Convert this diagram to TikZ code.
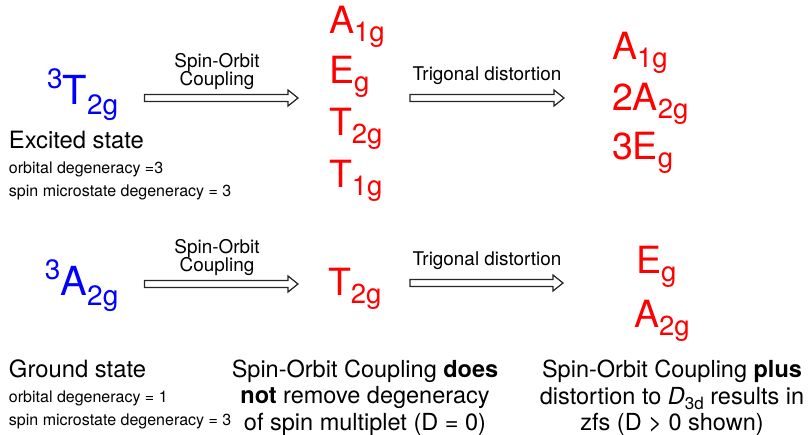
\documentclass[tikz,border=0pt]{standalone}
\usepackage{fontspec}
\setmainfont{TeX Gyre Heros}
\usetikzlibrary{calc}
\newcommand\redsub[1]{\raisebox{-8pt}{\fontsize{27.5}{27.5}\selectfont #1}}
\newcommand\bluesub[1]{\raisebox{-10pt}{\fontsize{28}{28}\selectfont #1}}
\newcommand\bluesup[1]{\raisebox{16pt}{\fontsize{28}{28}\selectfont #1}}
\newcommand\fatarrow[2]{\draw[fatarrowstyle] ($(#1)+(0,3.5)$) -- ($(#2)+(-10,3.5)$) -- ($(#2)+(-10,8)$) -- (#2) -- ($(#2)+(-10,-8)$) -- ($(#2)+(-10,-3.5)$) -- ($(#1)+(0,-3.5)$) -- cycle;}
\begin{document}
\begin{tikzpicture}[x=1pt,y=-1pt,
  every node/.style={inner sep=0pt,outer sep=0pt},
  blueterm/.style={anchor=base west,text=blue,font=\fontsize{40}{40}\selectfont},
  redterm/.style={anchor=base west,text=red,font=\fontsize{37.5}{37.5}\selectfont},
  arrowlabel/.style={anchor=base,font=\fontsize{18.9}{19}\selectfont},
  statetitle/.style={anchor=base west,font=\fontsize{23.8}{24}\selectfont},
  smalltext/.style={anchor=base west,font=\fontsize{16}{16}\selectfont},
  note/.style={anchor=base,font=\fontsize{23.5}{24}\selectfont},
  fatarrowstyle/.style={draw=black!85,line width=1.2pt,fill=white,line join=miter}]
\useasboundingbox (0,0) rectangle (809,434);

% top row
\node[blueterm] (T2g) at (47,104) {\bluesup{3}T\bluesub{2g}};
\node[statetitle] (exc) at (9,148) {Excited state};
\node[smalltext] (exc1) at (9,173) {orbital degeneracy =3};
\node[smalltext] (exc2) at (9,196) {spin microstate degeneracy = 3};

\node[arrowlabel] (so1a) at (217,67) {Spin-Orbit};
\node[arrowlabel] (so1b) at (217,85) {Coupling};
\coordinate (a1s) at (144.5,98);
\coordinate (a1e) at (298,98);
\fatarrow{a1s}{a1e}

\node[redterm] (r1) at (329,33) {A\redsub{1g}};
\node[redterm] (r2) at (329,83) {E\redsub{g}};
\node[redterm] (r3) at (329,135) {T\redsub{2g}};
\node[redterm] (r4) at (329,187) {T\redsub{1g}};

\node[arrowlabel] (tr1) at (487,80) {Trigonal distortion};
\coordinate (a2s) at (410,98);
\coordinate (a2e) at (564,98);
\fatarrow{a2s}{a2e}

\node[redterm] (s1) at (612,59) {A\redsub{1g}};
\node[redterm] (s2) at (612,110) {2A\redsub{2g}};
\node[redterm] (s3) at (612,159) {3E\redsub{g}};

% bottom row
\node[blueterm] (A2g) at (45,295) {\bluesup{3}A\bluesub{2g}};
\node[arrowlabel] (so2a) at (217,253) {Spin-Orbit};
\node[arrowlabel] (so2b) at (217,271) {Coupling};
\coordinate (b1s) at (144.5,284);
\coordinate (b1e) at (298,284);
\fatarrow{b1s}{b1e}

\node[redterm] (bt) at (328,295) {T\redsub{2g}};

\node[arrowlabel] (tr2) at (487,265) {Trigonal distortion};
\coordinate (b2s) at (410,283);
\coordinate (b2e) at (563,283);
\fatarrow{b2s}{b2e}

\node[redterm] (be) at (636,273) {E\redsub{g}};
\node[redterm] (ba) at (634,327) {A\redsub{2g}};

\node[statetitle] (gnd) at (9,377) {Ground state};
\node[smalltext] (gnd1) at (9,402) {orbital degeneracy = 1};
\node[smalltext] (gnd2) at (9,425) {spin microstate degeneracy = 3};

\node[note] (m1) at (365,377) {Spin-Orbit Coupling \textbf{does}};
\node[note] (m2) at (365,403) {\textbf{not} remove degeneracy};
\node[note] (m3) at (365,430) {of spin multiplet (D = 0)};

\node[note] (n1) at (672,377) {Spin-Orbit Coupling \textbf{plus}};
\node[note] (n2) at (672,404) {distortion to \textit{D}\raisebox{-5pt}{\fontsize{17}{17}\selectfont 3d} results in};
\node[note] (n3) at (672,430) {zfs (D > 0 shown)};
\end{tikzpicture}
\end{document}
